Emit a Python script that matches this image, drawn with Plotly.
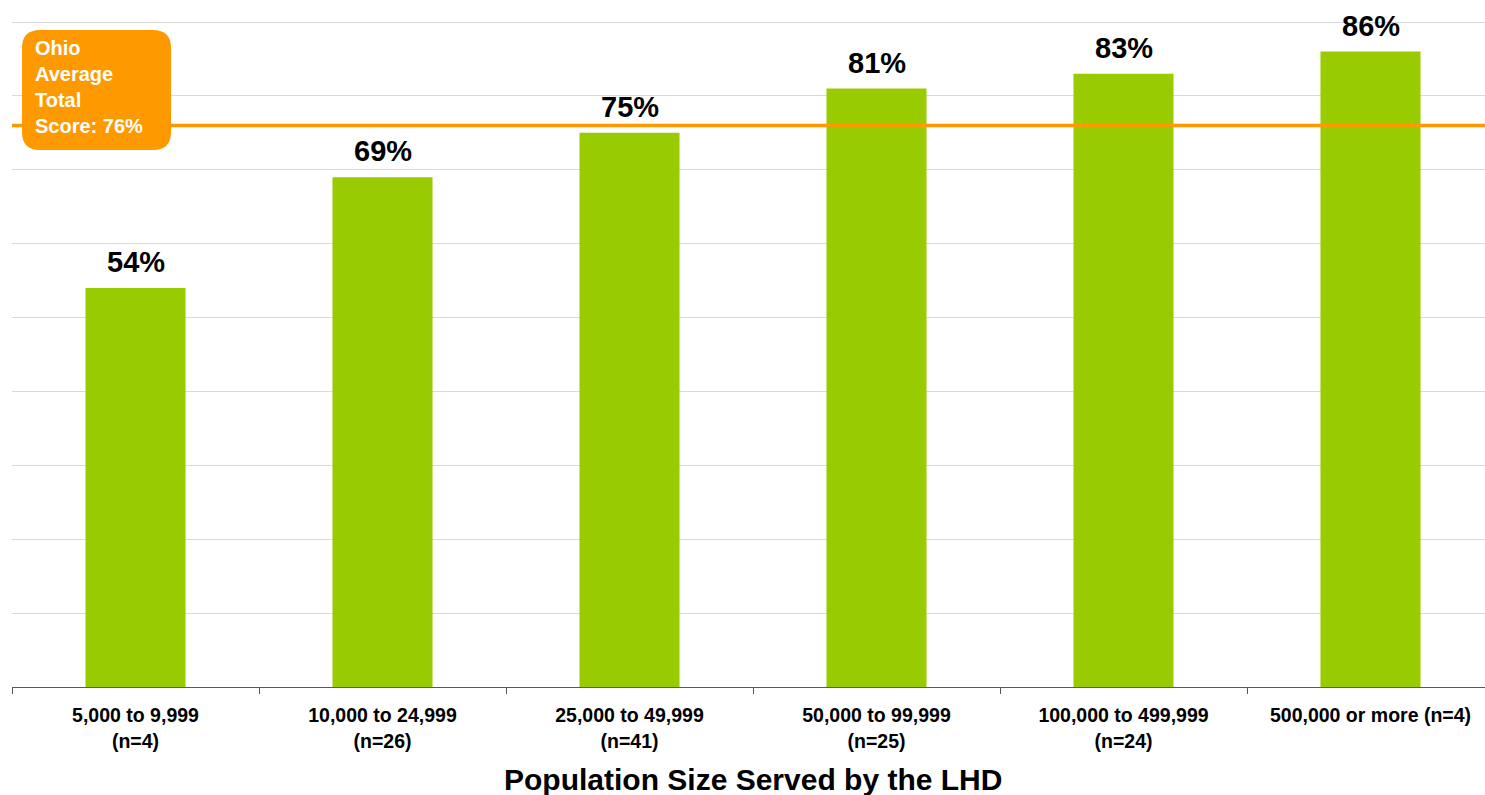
import plotly.graph_objects as go

categories = ["5,000 to 9,999<br>(n=4)", "10,000 to 24,999<br>(n=26)", "25,000 to 49,999<br>(n=41)",
              "50,000 to 99,999<br>(n=25)", "100,000 to 499,999<br>(n=24)", "500,000 or more (n=4)"]
scores = [54, 69, 75, 81, 83, 86]
ohio_average = 76
x_title = "Population Size Served by the LHD"
box_text = "Ohio<br>Average<br>Total<br>Score: 76%"

FONT = "Liberation Sans, Arial, sans-serif"
GREEN = "#99CC00"
ORANGE = "#FF9900"

W, H = 1485, 795
ML, MR, MT, MB = 12, 0, 18, 108
pw, ph = W - ML - MR, H - MT - MB
PX_PER_UNIT = 665 / 90.0
y_top = ph / PX_PER_UNIT

fig = go.Figure()
fig.add_trace(go.Bar(x=categories, y=scores, marker_color=GREEN, width=0.405,
                     marker_line_width=0, hoverinfo="skip"))

for c, v in zip(categories, scores):
    fig.add_annotation(x=c, y=v, text=f"<b>{v}%</b>", showarrow=False, yanchor="bottom",
                       yshift=8, font=dict(family=FONT, size=29, color="#000000"))

# Ohio average line
fig.add_shape(type="line", xref="paper", x0=0, x1=1, yref="y", y0=ohio_average, y1=ohio_average,
              line=dict(color=ORANGE, width=3.5), layer="above")

# rounded box
def px_x(p):
    return (p - ML) / pw

def px_y(p):
    return (H - MB - p) / ph

x0, x1 = px_x(22), px_x(171)
y0, y1 = px_y(150), px_y(30)
rx, ry = 18 / pw, 18 / ph
path = (f"M {x0+rx},{y1} L {x1-rx},{y1} Q {x1},{y1} {x1},{y1-ry} L {x1},{y0+ry} "
        f"Q {x1},{y0} {x1-rx},{y0} L {x0+rx},{y0} Q {x0},{y0} {x0},{y0+ry} "
        f"L {x0},{y1-ry} Q {x0},{y1} {x0+rx},{y1} Z")
fig.add_shape(type="path", xref="paper", yref="paper", path=path,
              fillcolor=ORANGE, line=dict(width=0), layer="above")
fig.add_annotation(xref="paper", yref="paper", x=px_x(33), y=px_y(87), xanchor="left", yanchor="middle",
                   align="left", showarrow=False, text=f"<b>{box_text}</b>",
                   font=dict(family=FONT, size=20, color="#FFFFFF"))

# x title
fig.add_annotation(xref="paper", yref="paper", x=px_x(753), y=px_y(779), xanchor="center", yanchor="middle",
                   showarrow=False, text=f"<b>{x_title}</b>",
                   font=dict(family=FONT, size=30, color="#000000"))

span = pw / 247.0
fig.update_layout(
    width=W, height=H, margin=dict(l=ML, r=MR, t=MT, b=MB),
    paper_bgcolor="white", plot_bgcolor="white", showlegend=False,
    font=dict(family=FONT, color="#000000"),
    xaxis=dict(type="category", range=[-0.5, -0.5 + span], tickson="boundaries", ticks="outside",
               ticklen=6, tickcolor="#595959", showline=True, linecolor="#595959", linewidth=1,
               showgrid=False, tickfont=dict(family=FONT, size=19.5, color="#000000"),
               ticklabelstandoff=11, tickangle=0),
    yaxis=dict(range=[0, y_top], dtick=10, showticklabels=False, showgrid=True, gridcolor="#D9D9D9",
               gridwidth=1, zeroline=False, showline=False),
    bargap=0.6,
)
fig.update_xaxes(tickprefix="<b>", ticksuffix="</b>")

fig.write_html("out.html")
